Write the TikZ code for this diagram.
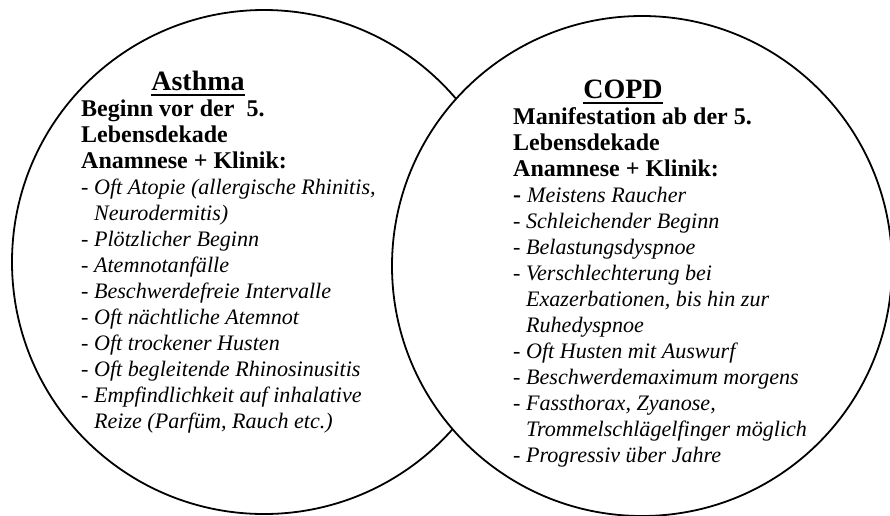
\documentclass[tikz,border=0pt]{standalone}
\usepackage{fontspec}
\setmainfont{Liberation Serif}
\usepackage{tikz}

% Aufzaehlungspunkte (kursiv) und Fortsetzungszeilen
\newcommand{\punkt}[1]{{\mdseries\fontsize{22.1}{26}\selectfont - \textit{#1}}}
\newcommand{\weiter}[1]{{\mdseries\fontsize{22.1}{26}\selectfont\hphantom{- }\textit{#1}}}

\begin{document}
\begin{tikzpicture}[
    x=1pt, y=-1pt,
    kreis/.style={circle, draw, line width=1.8pt, fill=white, inner sep=0pt},
    titel/.style={anchor=base, inner sep=0pt, font=\fontsize{28}{30}\selectfont\bfseries},
    strich/.style={line width=1.8pt},
    liste/.style={anchor=base west, align=left, inner sep=0pt, font=\fontsize{24}{26}\selectfont\bfseries}
]
\useasboundingbox (0,0) rectangle (890,515);
\clip (0,0) rectangle (890,515);

% Kreise
\node[kreis, minimum size=504pt] (asthmakreis) at (264,262) {};
\node[kreis, minimum size=500pt] (copdkreis) at (642,266) {};

% Asthma (Anker an der letzten Zeile)
\node[titel] (asthmatitel) at (198,90) {Asthma};
\draw[strich] ([yshift=-5pt]asthmatitel.base west) -- ([yshift=-5pt]asthmatitel.base east);
\node[liste] (asthmaliste) at (81,428) {Beginn vor der\ \ 5.\\
    Lebensdekade\\
    Anamnese + Klinik:\\
    \punkt{Oft Atopie (allergische Rhinitis,}\\
    \weiter{Neurodermitis)}\\
    \punkt{Plötzlicher Beginn}\\
    \punkt{Atemnotanfälle}\\
    \punkt{Beschwerdefreie Intervalle}\\
    \punkt{Oft nächtliche Atemnot}\\
    \punkt{Oft trockener Husten}\\
    \punkt{Oft begleitende Rhinosinusitis}\\
    \punkt{Empfindlichkeit auf inhalative}\\
    \weiter{Reize (Parfüm, Rauch etc.)}};

% COPD
\node[titel] (copdtitel) at (623,98) {COPD};
\draw[strich] ([yshift=-5pt]copdtitel.base west) -- ([yshift=-5pt]copdtitel.base east);
\node[liste] (copdliste) at (513,462) {Manifestation ab der 5.\\
    Lebensdekade\\
    Anamnese + Klinik:\\
    - {\mdseries\fontsize{22.1}{26}\selectfont\textit{Meistens Raucher}}\\
    \punkt{Schleichender Beginn}\\
    \punkt{Belastungsdyspnoe}\\
    \punkt{Verschlechterung bei}\\
    \weiter{Exazerbationen, bis hin zur}\\
    \weiter{Ruhedyspnoe}\\
    \punkt{Oft Husten mit Auswurf}\\
    \punkt{Beschwerdemaximum morgens}\\
    \punkt{Fassthorax, Zyanose,}\\
    \weiter{Trommelschlägelfinger möglich}\\
    \punkt{Progressiv über Jahre}};

\end{tikzpicture}
\end{document}
